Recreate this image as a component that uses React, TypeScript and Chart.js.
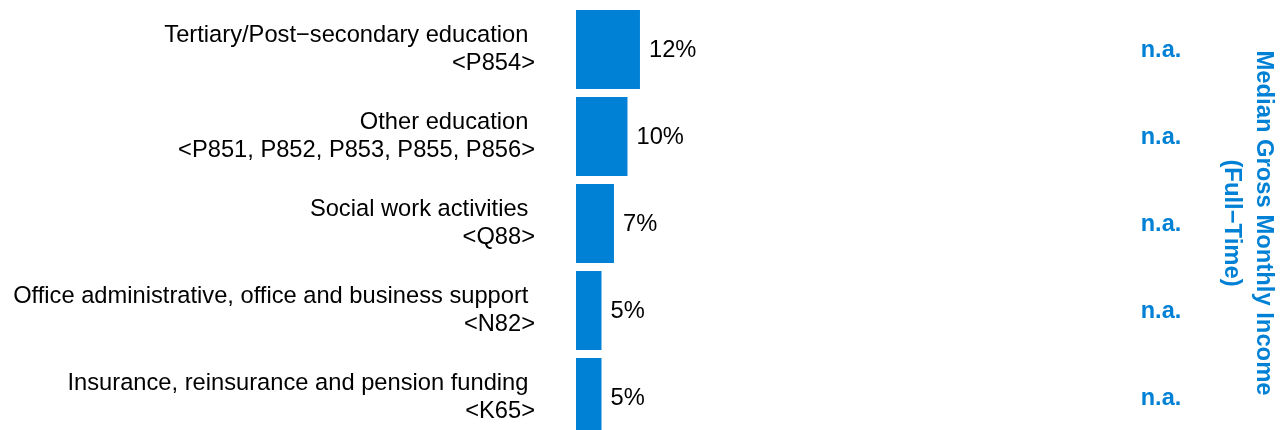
import React, { useEffect, useRef } from "react";
import { Chart, registerables } from "chart.js";

Chart.register(...registerables);

const categories: string[][] = [
  ["Tertiary/Post−secondary education ", "<P854>"],
  ["Other education ", "<P851, P852, P853, P855, P856>"],
  ["Social work activities ", "<Q88>"],
  ["Office administrative, office and business support ", "<N82>"],
  ["Insurance, reinsurance and pension funding ", "<K65>"],
];
const shares: number[] = [12.3, 9.9, 7.3, 4.9, 4.9];
const shareLabels: string[] = ["12%", "10%", "7%", "5%", "5%"];
const incomeLabels: string[] = ["n.a.", "n.a.", "n.a.", "n.a.", "n.a."];
const sideTitle: string[] = ["Median Gross Monthly Income", "(Full−Time)"];

const BLUE = "#0081D5";
const FONT = "'Liberation Sans', Arial, sans-serif";

export default function App() {
  const ref = useRef<HTMLCanvasElement | null>(null);
  useEffect(() => {
    if (!ref.current) return;
    const overlay = {
      id: "overlay",
      afterDatasetsDraw(chart: any) {
        const ctx = chart.ctx;
        const meta = chart.getDatasetMeta(0);
        ctx.save();
        ctx.textBaseline = "middle";
        meta.data.forEach((bar: any, i: number) => {
          ctx.font = `23.7px ${FONT}`;
          ctx.fillStyle = "#000";
          ctx.textAlign = "left";
          ctx.fillText(shareLabels[i], bar.x + 9, bar.y + 1);
          ctx.font = `bold 23.5px ${FONT}`;
          ctx.fillStyle = BLUE;
          ctx.textAlign = "center";
          ctx.fillText(incomeLabels[i], 1161, bar.y + 1);
        });
        ctx.translate(1248, 223);
        ctx.rotate(Math.PI / 2);
        ctx.font = `bold 23.8px ${FONT}`;
        ctx.fillStyle = BLUE;
        ctx.textAlign = "center";
        ctx.fillText(sideTitle[0], 0, -16);
        ctx.fillText(sideTitle[1], 0, 16);
        ctx.restore();
      },
    };
    const chart = new Chart(ref.current, {
      type: "bar",
      data: {
        labels: categories,
        datasets: [
          {
            data: shares,
            backgroundColor: BLUE,
            borderWidth: 0,
            categoryPercentage: 1,
            barPercentage: 0.908,
          },
        ],
      },
      options: {
        indexAxis: "y",
        animation: false,
        responsive: false,
        layout: { padding: { top: 6, bottom: 4, left: 0, right: 186 } },
        plugins: { legend: { display: false }, tooltip: { enabled: false } },
        scales: {
          x: { display: false, min: 0, max: 100 },
          y: {
            afterFit: (s: any) => {
              s.width = 576;
              s.paddingTop = 0;
              s.paddingBottom = 0;
            },
            grid: { display: false, drawTicks: false },
            border: { display: false },
            ticks: {
              padding: 41,
              color: "#000",
              font: { family: FONT, size: 23.7, lineHeight: 1.15 },
            },
          },
        },
      },
      plugins: [overlay],
    });
    return () => chart.destroy();
  }, []);
  return (
    <div style={{ position: "absolute", left: 0, top: 0, width: 1282, height: 430, overflow: "hidden", background: "#fff" }}>
      <canvas ref={ref} width={1282} height={445} style={{ display: "block" }} />
    </div>
  );
}
